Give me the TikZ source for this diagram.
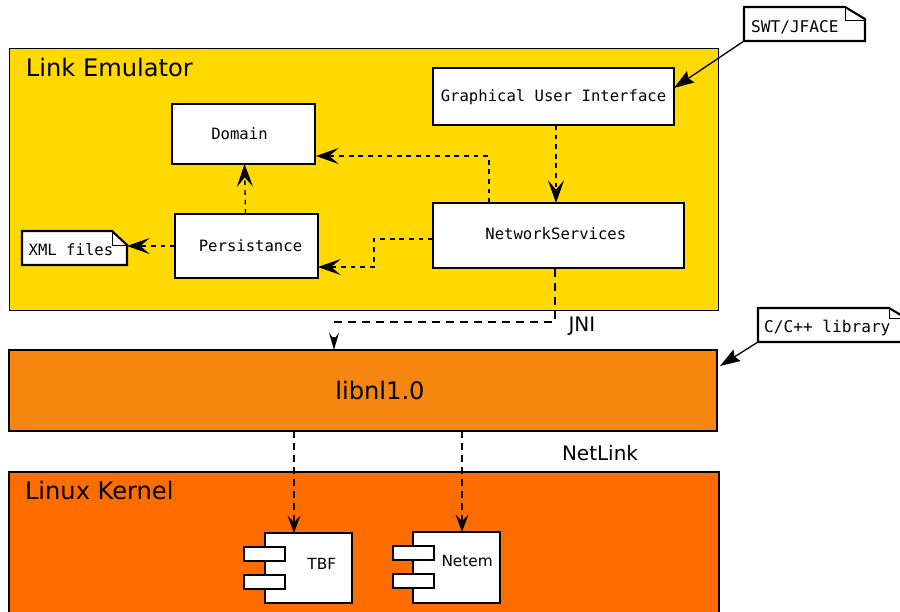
\documentclass[tikz,border=0pt]{standalone}
\usepackage{fontspec}
\setmainfont{DejaVu Sans}
\setmonofont{DejaVu Sans Mono}
\usetikzlibrary{arrows.meta}
\definecolor{cyellow}{HTML}{FFD900}
\definecolor{corangea}{HTML}{F5860F}
\definecolor{corangeb}{HTML}{FF6D00}
\newcommand{\baseat}[2]{\raisebox{#1}[0pt][0pt]{#2}}
\tikzset{
  x=0.75pt,y=-0.75pt,
  every node/.append style={outer sep=0pt},
  region/.style={draw=black,line width=0.75pt,anchor=north west,inner sep=0pt},
  classbox/.style={draw=black,fill=white,line width=1.7pt,anchor=north west,inner sep=0pt,font=\ttfamily\fontsize{11.7}{14}\selectfont},
  notebox/.style={anchor=north west,inner ysep=0pt,inner xsep=4.5pt,align=flush left,font=\ttfamily\fontsize{12.1}{14}\selectfont},
  noteline/.style={draw=black,fill=white,line width=1.6pt},
  foldline/.style={draw=black,line width=0.7pt},
  compbox/.style={draw=black,fill=white,line width=1.5pt,anchor=north west,inner sep=0pt,font=\fontsize{11.5}{14}\selectfont},
  portbox/.style={draw=black,fill=white,line width=1.5pt,anchor=north west,inner sep=0pt},
  biglabel/.style={inner sep=0pt,font=\fontsize{18.1}{22}\selectfont},
  midlabel/.style={inner sep=0pt,font=\fontsize{15}{18}\selectfont},
  bigtip/.style={-{Stealth[length=17pt,width=12pt,inset=7pt]}},
  usedep/.style={draw=black,line width=1pt,dash pattern=on 3.6pt off 3.6pt,bigtip},
  longdep/.style={draw=black,line width=1.4pt,dash pattern=on 6pt off 4.5pt,dash phase=9.75pt},
  kerndep/.style={draw=black,line width=1.3pt,dash pattern=on 5pt off 4pt,-{Stealth[length=13pt,width=9.5pt,inset=5pt]}},
  assoc/.style={draw=black,line width=1pt,-{Stealth[length=15pt,width=10pt,inset=2pt]}},
}
\begin{document}
\begin{tikzpicture}
\useasboundingbox (0,0) rectangle (900,611);
\clip (0,0) rectangle (900,611);
\fill[white] (0,0) rectangle (900,611);
% regions
\node[region,fill=cyellow,minimum width=531.75pt,minimum height=196.5pt] (emu) at (9,48) {};
\node[region,fill=corangea,line width=1.3pt,minimum width=531pt,minimum height=60.75pt] (nl) at (9,350) {};
\node[region,fill=corangeb,line width=1.3pt,minimum width=532.5pt,minimum height=140pt] (kern) at (9,472) {};
% classes
\node[classbox,minimum width=180.75pt,minimum height=42.75pt] (gui) at (433,68) {\baseat{-3.75pt}{Graphical User Interface}};
\node[classbox,minimum width=107.25pt,minimum height=45pt] (dom) at (172,104) {\hspace*{-6pt}\baseat{-4.1pt}{Domain}};
\node[classbox,minimum width=107.25pt,minimum height=48pt] (pers) at (175,214) {\hspace*{6pt}\baseat{-4pt}{Persistance}};
\node[classbox,minimum width=188.25pt,minimum height=48.75pt] (net) at (433,203) {\hspace*{-4pt}\baseat{-3pt}{NetworkServices}};
% notes
\draw[noteline] (22,231) -- (112,231) -- (127,245) -- (127,265) -- (22,265) -- cycle;
\draw[foldline] (112,231) -- (112,245) -- (127,245);
\node[notebox,inner xsep=5pt,font=\ttfamily\fontsize{11.7}{14}\selectfont,minimum width=78.75pt,minimum height=25.5pt,text width=70pt] (xml) at (22,231) {\baseat{-5.25pt}{XML files}};
\draw[noteline] (744,7) -- (845,7) -- (865,19) -- (865,41) -- (744,41) -- cycle;
\draw[foldline] (845,7) -- (845,20) -- (865,20);
\node[notebox,minimum width=90.75pt,minimum height=25.5pt,text width=80pt] (swt) at (744,7) {\baseat{-6pt}{SWT/JFACE}};
\draw[noteline] (758,308) -- (889,308) -- (909,320) -- (909,342) -- (758,342) -- cycle;
\draw[foldline] (889,308) -- (889,318) -- (909,318);
\node[notebox,minimum width=113.25pt,minimum height=25.5pt,text width=104pt] (clib) at (758,308) {\baseat{-5.25pt}{C/C++ library}};
% components
\node[compbox,minimum width=65.25pt,minimum height=52.5pt] (tbf) at (265,533) {\hspace*{20pt}\baseat{-0.75pt}{TBF}};
\node[portbox,minimum width=30.75pt,minimum height=10.5pt] (tbfa) at (244,547) {};
\node[portbox,minimum width=30.75pt,minimum height=10.5pt] (tbfb) at (244,575) {};
\node[compbox,minimum width=65.25pt,minimum height=53.25pt] (netem) at (413,532) {\hspace*{16pt}\baseat{0.4pt}{Netem}};
\node[portbox,minimum width=30.75pt,minimum height=10.5pt] (netema) at (393,546) {};
\node[portbox,minimum width=30.75pt,minimum height=10.5pt] (netemb) at (393,574) {};
% labels
\node[biglabel,anchor=west] (lemu) at (26,67) {Link Emulator};
\node[biglabel,anchor=west] (lkern) at (25,490) {Linux Kernel};
\node[biglabel,anchor=center] (lnl) at (380,390) {libnl1.0};
\node[midlabel,anchor=west] (jni) at (568.5,326.5) {JNI};
\node[midlabel,anchor=west] (nlk) at (562,453) {NetLink};
% connector waypoints
\coordinate (a) at (489,156);
\coordinate (b) at (374,239);
\coordinate (c) at (374,267);
\coordinate (d) at (555,322);
\coordinate (e) at (334,322);
\coordinate (f) at (334,336);
\coordinate (nettop) at (489,203);
\coordinate (domright) at (316,156);
\coordinate (persright) at (318,267);
\coordinate (netleft) at (433,239);
\coordinate (netbot) at (555,268);
\coordinate (nltop) at (334,350);
\coordinate (guibot) at (556,125);
\coordinate (nettopb) at (556,203);
\coordinate (guiright) at (674,88);
\coordinate (nlright) at (720,366);
\coordinate (pt) at (245.5,214);
\coordinate (dt) at (244.5,164);
\coordinate (pl) at (175,246);
\coordinate (xr) at (127,246);
\coordinate (nla) at (294,431);
\coordinate (nlb) at (462,431);
\coordinate (tt) at (294,533);
\coordinate (nt) at (462,532);
% connectors
\draw[assoc] (swt.south west) -- (guiright);
\draw[assoc] (clib.south west) -- (nlright);
\draw[usedep] (guibot) -- (nettopb);
\draw[usedep] (nettop) -- (a) -- (domright);
\draw[usedep] (netleft) -- (b) -- (c) -- (persright);
\draw[usedep] (pt) -- (dt);
\draw[usedep] (pl) -- (xr);
\draw[longdep,-{Stealth[length=13pt,width=7.5pt,inset=5pt]}] (netbot) -- (d) -- (e) (f) -- (nltop);
\draw[kerndep] (nla) -- (tt);
\draw[kerndep] (nlb) -- (nt);
\end{tikzpicture}
\end{document}
